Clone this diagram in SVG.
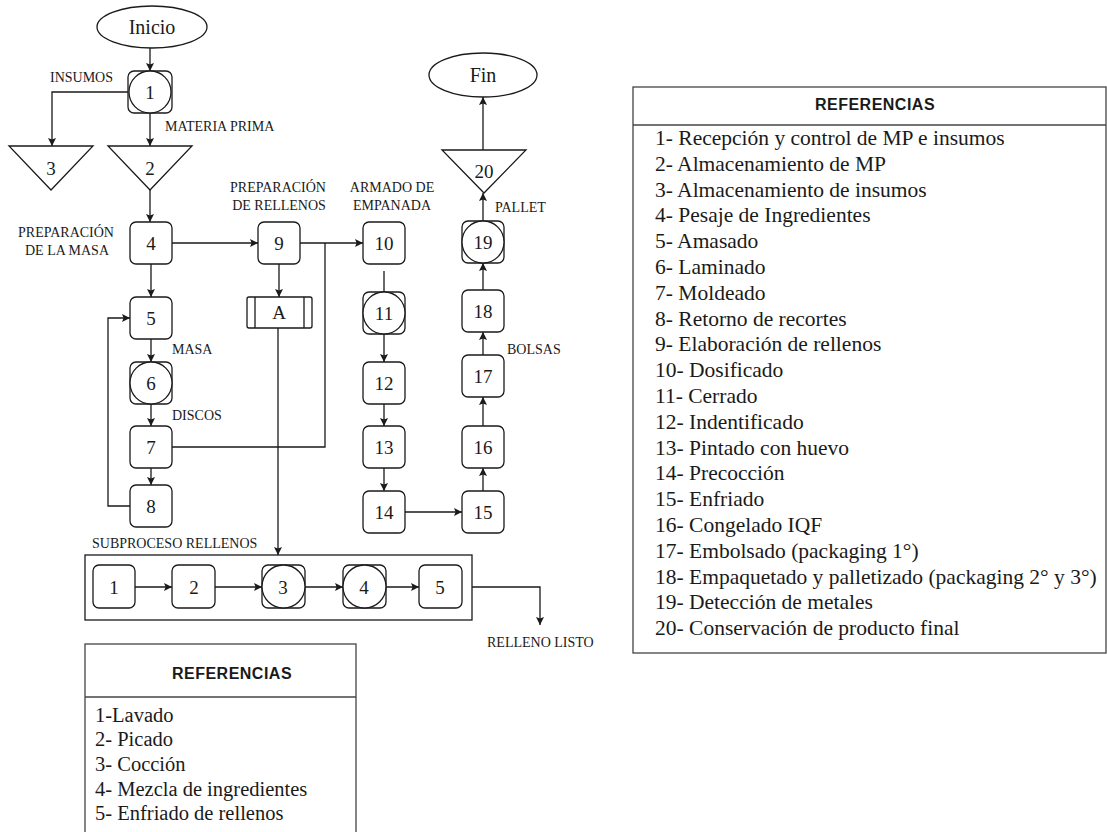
<svg xmlns="http://www.w3.org/2000/svg" width="1107" height="832" viewBox="0 0 1107 832">
  <style>
    .shape { fill: #ffffff; stroke: #1a1a1a; stroke-width: 1.3; }
    .frame { fill: none; stroke: #1a1a1a; stroke-width: 1.3; }
    .edge { fill: none; stroke: #1a1a1a; stroke-width: 1.3; }
    .num { font-family: "Liberation Serif", "Times New Roman", serif; font-size: 19px; fill: #1a1a1a; text-anchor: middle; }
    .lbl { font-family: "Liberation Serif", "Times New Roman", serif; font-size: 14px; fill: #1a1a1a; }
    .lblc { font-family: "Liberation Serif", "Times New Roman", serif; font-size: 14px; fill: #1a1a1a; text-anchor: middle; }
    .term { font-family: "Liberation Serif", "Times New Roman", serif; font-size: 20px; fill: #1a1a1a; text-anchor: middle; }
    .tbl { fill: #ffffff; stroke: #444444; stroke-width: 1.3; }
    .thead { font-family: "Liberation Sans", Arial, sans-serif; font-size: 16px; font-weight: bold; letter-spacing: 0.5px; fill: #1a1a1a; text-anchor: middle; }
    .item { font-family: "Liberation Serif", "Times New Roman", serif; font-size: 21.5px; fill: #1a1a1a; }
    .item2 { font-family: "Liberation Serif", "Times New Roman", serif; font-size: 20.5px; fill: #1a1a1a; }
  </style>
  <defs>
    <marker id="arr" viewBox="0 0 10 10" refX="10" refY="5" markerWidth="9" markerHeight="8" orient="auto" markerUnits="userSpaceOnUse">
      <path d="M0,0 L10,5 L0,10 L2,5 z" fill="#1a1a1a"/>
    </marker>
  </defs>
  <rect width="1107" height="832" fill="#ffffff"/>

  <!-- filling sub-process frame -->
  <g id="subproceso-marco">
    <rect class="frame" x="85" y="555" width="387" height="65"/>
  </g>

  <!-- connectors -->
  <g id="connectors">
    <path class="edge" d="M150,48 V71" marker-end="url(#arr)"/>
    <path class="edge" d="M128,92 H52 V146" marker-end="url(#arr)"/>
    <path class="edge" d="M150,113 V146" marker-end="url(#arr)"/>
    <path class="edge" d="M150,190 V222" marker-end="url(#arr)"/>
    <path class="edge" d="M172,243 H258" marker-end="url(#arr)"/>
    <path class="edge" d="M299,243 H363" marker-end="url(#arr)"/>
    <path class="edge" d="M172,447 H325 V243"/>
    <path class="edge" d="M151,264 V297" marker-end="url(#arr)"/>
    <path class="edge" d="M151,339 V362" marker-end="url(#arr)"/>
    <path class="edge" d="M151,404 V426" marker-end="url(#arr)"/>
    <path class="edge" d="M151,468 V485" marker-end="url(#arr)"/>
    <path class="edge" d="M130,506 H108 V318 H130" marker-end="url(#arr)"/>
    <path class="edge" d="M279,264 V297" marker-end="url(#arr)"/>
    <path class="edge" d="M278,328 V555" marker-end="url(#arr)"/>
    <path class="edge" d="M384,271 V292"/>
    <path class="edge" d="M384,334 V362" marker-end="url(#arr)"/>
    <path class="edge" d="M384,404 V426" marker-end="url(#arr)"/>
    <path class="edge" d="M384,468 V491" marker-end="url(#arr)"/>
    <path class="edge" d="M405,512 H462" marker-end="url(#arr)"/>
    <path class="edge" d="M483,491 V468" marker-end="url(#arr)"/>
    <path class="edge" d="M483,426 V397" marker-end="url(#arr)"/>
    <path class="edge" d="M483,355 V332" marker-end="url(#arr)"/>
    <path class="edge" d="M483,290 V263" marker-end="url(#arr)"/>
    <path class="edge" d="M483,221 V193" marker-end="url(#arr)"/>
    <path class="edge" d="M483,150 V97" marker-end="url(#arr)"/>
    <path class="edge" d="M135,587 H172" marker-end="url(#arr)"/>
    <path class="edge" d="M215,587 H262" marker-end="url(#arr)"/>
    <path class="edge" d="M305,587 H343" marker-end="url(#arr)"/>
    <path class="edge" d="M386,587 H419" marker-end="url(#arr)"/>
    <path class="edge" d="M472,587 H540 V625" marker-end="url(#arr)"/>
  </g>

  <!-- terminals -->
  <g id="inicio">
    <ellipse class="shape" cx="152" cy="27" rx="55" ry="21"/>
    <text class="term" x="152" y="34">Inicio</text>
  </g>
  <g id="fin">
    <ellipse class="shape" cx="483" cy="75" rx="54" ry="22"/>
    <text class="term" x="483" y="82">Fin</text>
  </g>

  <!-- main process -->
  <g id="n1">
    <rect class="shape" x="128" y="71" width="44" height="42" rx="6"/>
    <circle class="shape" cx="150" cy="92" r="21"/>
    <text class="num" x="150" y="99">1</text>
  </g>
  <g id="n3">
    <path class="shape" d="M9,146 H93 L51,190 Z"/>
    <text class="num" x="51" y="175">3</text>
  </g>
  <g id="n2">
    <path class="shape" d="M108,146 H192 L150,190 Z"/>
    <text class="num" x="150" y="175">2</text>
  </g>
  <g id="n4">
    <rect class="shape" x="130" y="222" width="42" height="42" rx="6"/>
    <text class="num" x="151" y="250">4</text>
  </g>
  <g id="n5">
    <rect class="shape" x="130" y="297" width="42" height="42" rx="6"/>
    <text class="num" x="151" y="325">5</text>
  </g>
  <g id="n6">
    <rect class="shape" x="130" y="362" width="42" height="42" rx="6"/>
    <circle class="shape" cx="151" cy="383" r="21"/>
    <text class="num" x="151" y="390">6</text>
  </g>
  <g id="n7">
    <rect class="shape" x="130" y="426" width="42" height="42" rx="6"/>
    <text class="num" x="151" y="454">7</text>
  </g>
  <g id="n8">
    <rect class="shape" x="130" y="485" width="42" height="42" rx="6"/>
    <text class="num" x="151" y="513">8</text>
  </g>
  <g id="n9">
    <rect class="shape" x="258" y="222" width="42" height="42" rx="6"/>
    <text class="num" x="279" y="250">9</text>
  </g>
  <g id="nA">
    <rect class="shape" x="247" y="297" width="65" height="31" rx="2"/>
    <path class="edge" d="M255,297 V328 M304,297 V328"/>
    <text class="num" x="279" y="319">A</text>
  </g>
  <g id="n10">
    <rect class="shape" x="363" y="222" width="42" height="42" rx="6"/>
    <text class="num" x="384" y="250">10</text>
  </g>
  <g id="n11">
    <rect class="shape" x="363" y="292" width="42" height="42" rx="6"/>
    <circle class="shape" cx="384" cy="313" r="21"/>
    <text class="num" x="384" y="320">11</text>
  </g>
  <g id="n12">
    <rect class="shape" x="363" y="362" width="42" height="42" rx="6"/>
    <text class="num" x="384" y="390">12</text>
  </g>
  <g id="n13">
    <rect class="shape" x="363" y="426" width="42" height="42" rx="6"/>
    <text class="num" x="384" y="454">13</text>
  </g>
  <g id="n14">
    <rect class="shape" x="363" y="491" width="42" height="42" rx="6"/>
    <text class="num" x="384" y="519">14</text>
  </g>
  <g id="n15">
    <rect class="shape" x="462" y="491" width="42" height="42" rx="6"/>
    <text class="num" x="483" y="519">15</text>
  </g>
  <g id="n16">
    <rect class="shape" x="462" y="426" width="42" height="42" rx="6"/>
    <text class="num" x="483" y="454">16</text>
  </g>
  <g id="n17">
    <rect class="shape" x="462" y="355" width="42" height="42" rx="6"/>
    <text class="num" x="483" y="383">17</text>
  </g>
  <g id="n18">
    <rect class="shape" x="462" y="290" width="42" height="42" rx="6"/>
    <text class="num" x="483" y="318">18</text>
  </g>
  <g id="n19">
    <rect class="shape" x="462" y="221" width="42" height="42" rx="6"/>
    <circle class="shape" cx="483" cy="242" r="21"/>
    <text class="num" x="483" y="249">19</text>
  </g>
  <g id="n20">
    <path class="shape" d="M442,150 H526 L484,193 Z"/>
    <text class="num" x="484" y="178">20</text>
  </g>

  <!-- flow labels -->
  <g id="labels">
    <text class="lbl" x="50" y="82">INSUMOS</text>
    <text class="lbl" x="165" y="131">MATERIA PRIMA</text>
    <text class="lblc" x="66" y="237">PREPARACIÓN</text>
    <text class="lblc" x="67" y="255">DE LA MASA</text>
    <text class="lblc" x="278" y="192">PREPARACIÓN</text>
    <text class="lblc" x="279" y="210">DE RELLENOS</text>
    <text class="lblc" x="392" y="192">ARMADO DE</text>
    <text class="lblc" x="392" y="210">EMPANADA</text>
    <text class="lbl" x="172" y="354">MASA</text>
    <text class="lbl" x="172" y="420">DISCOS</text>
    <text class="lbl" x="495" y="212">PALLET</text>
    <text class="lbl" x="507" y="354">BOLSAS</text>
    <text class="lbl" x="92" y="548">SUBPROCESO RELLENOS</text>
    <text class="lbl" x="487" y="647">RELLENO LISTO</text>
  </g>

  <!-- filling sub-process steps -->
  <g id="s1">
    <rect class="shape" x="93" y="565" width="42" height="43" rx="6"/>
    <text class="num" x="114" y="594">1</text>
  </g>
  <g id="s2">
    <rect class="shape" x="172" y="565" width="43" height="43" rx="6"/>
    <text class="num" x="194" y="594">2</text>
  </g>
  <g id="s3">
    <rect class="shape" x="262" y="565" width="43" height="43" rx="6"/>
    <circle class="shape" cx="283.5" cy="586.5" r="21.5"/>
    <text class="num" x="283" y="594">3</text>
  </g>
  <g id="s4">
    <rect class="shape" x="343" y="565" width="43" height="43" rx="6"/>
    <circle class="shape" cx="364.5" cy="586.5" r="21.5"/>
    <text class="num" x="364" y="594">4</text>
  </g>
  <g id="s5">
    <rect class="shape" x="419" y="565" width="43" height="43" rx="6"/>
    <text class="num" x="440" y="594">5</text>
  </g>

  <!-- legend: main process -->
  <g id="ref-proceso">
    <rect class="tbl" x="633" y="87" width="473" height="566"/>
    <path class="tbl" d="M633,125 H1106"/>
    <text class="thead" x="875" y="110">REFERENCIAS</text>
    <text class="item" x="655" y="145">1- Recepción y control de MP e insumos</text>
    <text class="item" x="655" y="170.8">2- Almacenamiento de MP</text>
    <text class="item" x="655" y="196.6">3- Almacenamiento de insumos</text>
    <text class="item" x="655" y="222.4">4- Pesaje de Ingredientes</text>
    <text class="item" x="655" y="248.2">5- Amasado</text>
    <text class="item" x="655" y="274">6- Laminado</text>
    <text class="item" x="655" y="299.8">7- Moldeado</text>
    <text class="item" x="655" y="325.6">8- Retorno de recortes</text>
    <text class="item" x="655" y="351.4">9- Elaboración de rellenos</text>
    <text class="item" x="655" y="377.2">10- Dosificado</text>
    <text class="item" x="655" y="403">11- Cerrado</text>
    <text class="item" x="655" y="428.8">12- Indentificado</text>
    <text class="item" x="655" y="454.6">13- Pintado con huevo</text>
    <text class="item" x="655" y="480.4">14- Precocción</text>
    <text class="item" x="655" y="506.2">15- Enfriado</text>
    <text class="item" x="655" y="532">16- Congelado IQF</text>
    <text class="item" x="655" y="557.8">17- Embolsado (packaging 1°)</text>
    <text class="item" x="655" y="583.6">18- Empaquetado y palletizado (packaging 2° y 3°)</text>
    <text class="item" x="655" y="609.4">19- Detección de metales</text>
    <text class="item" x="655" y="635.2">20- Conservación de producto final</text>
  </g>

  <!-- legend: filling sub-process -->
  <g id="ref-subproceso">
    <rect class="tbl" x="85" y="644" width="271" height="200"/>
    <path class="tbl" d="M85,697 H356"/>
    <text class="thead" x="232" y="679">REFERENCIAS</text>
    <text class="item2" x="95" y="722">1-Lavado</text>
    <text class="item2" x="95" y="746">2- Picado</text>
    <text class="item2" x="95" y="771">3- Cocción</text>
    <text class="item2" x="95" y="796">4- Mezcla de ingredientes</text>
    <text class="item2" x="95" y="820">5- Enfriado de rellenos</text>
  </g>
</svg>
